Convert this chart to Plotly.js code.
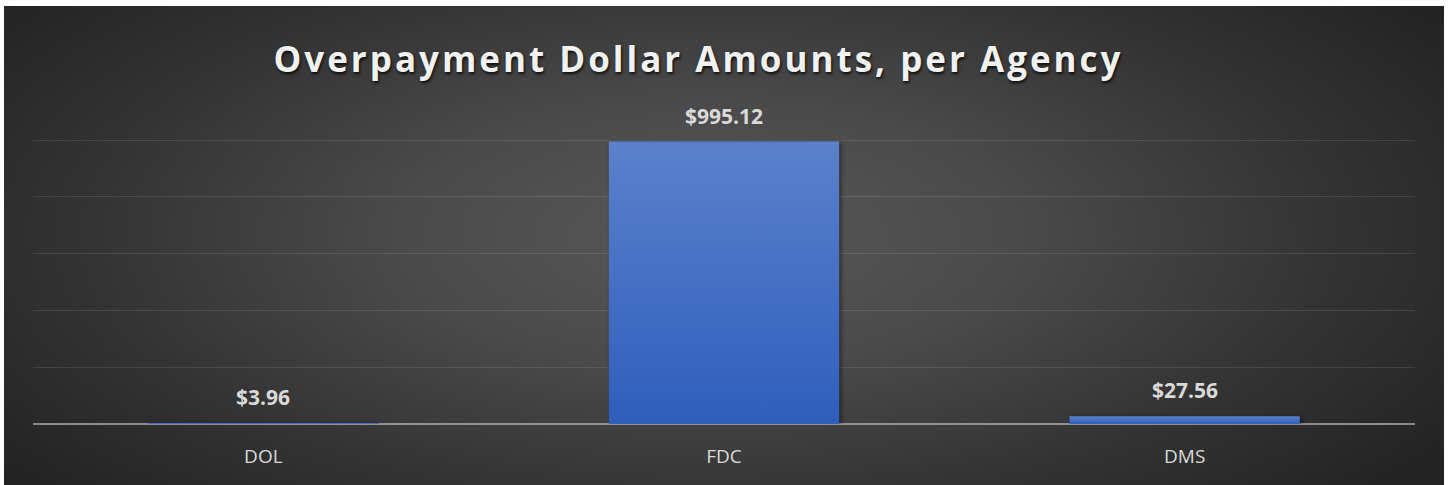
<!DOCTYPE html>
<html>
<head>
<meta charset="utf-8">
<script src="https://cdn.plot.ly/plotly-3.0.1.min.js"></script>
<style>
  html, body { margin: 0; padding: 0; background: #ffffff; width: 1450px; height: 485px; overflow: hidden; }
  #bg { position: absolute; left: 4px; top: 6px; width: 1440px; height: 479px;
        background: radial-gradient(ellipse 62% 80% at 49% 48%, #585858 0%, #4a4a4a 35%, #333333 70%, #232323 100%); }
  #chart { position: absolute; left: 0; top: 0; width: 1450px; height: 485px; }
  #chart .gtitle { letter-spacing: 3px; }
  #chart .trace.bars .point path { fill: url(#barGrad) !important; filter: drop-shadow(2px 1px 2px rgba(0,0,0,0.45)); }
</style>
</head>
<body>
<svg width="0" height="0" style="position:absolute">
  <defs>
    <linearGradient id="barGrad" x1="0" y1="0" x2="0" y2="1">
      <stop offset="0%" stop-color="#5b81cc"/>
      <stop offset="100%" stop-color="#2e5ebc"/>
    </linearGradient>
  </defs>
</svg>
<div id="bg"></div>
<div id="chart"></div>
<script>
const categories = ["DOL", "FDC", "DMS"];
const amounts = [3.96, 995.12, 27.56];
const amountLabels = ["$3.96", "$995.12", "$27.56"];
const chartTitle = "Overpayment Dollar Amounts, per Agency";

const trace = {
  type: "bar",
  x: categories,
  y: amounts,
  marker: { color: "#4674c8", line: { width: 0 } },
  hoverinfo: "skip"
};

const annotations = categories.map((c, i) => ({
  x: c, y: amounts[i], xref: "x", yref: "y",
  text: "<b>" + amountLabels[i] + "</b>",
  showarrow: false, yanchor: "middle", yshift: 26,
  font: { family: "Open Sans, sans-serif", size: 21, color: "#d9d9d9" }
}));

const layout = {
  width: 1450, height: 485,
  paper_bgcolor: "rgba(0,0,0,0)",
  plot_bgcolor: "rgba(0,0,0,0)",
  margin: { l: 33, r: 35, t: 139, b: 61 },
  bargap: 0.5,
  showlegend: false,
  title: {
    text: "<b>" + chartTitle + "</b>",
    xref: "container", x: 0.4817, xanchor: "center", y: 0.876, yanchor: "middle",
    font: { family: "Open Sans, sans-serif", size: 35, color: "#f2f2f2",
            shadow: "1px 2px 3px rgba(0,0,0,0.8)" }
  },
  xaxis: {
    type: "category",
    showgrid: false, zeroline: false, showline: false,
    ticks: "", ticklabelstandoff: 19,
    tickfont: { family: "Open Sans, sans-serif", size: 19, color: "#d9d9d9" },
    fixedrange: true
  },
  yaxis: {
    range: [0, 1004],
    tick0: 0, dtick: 200,
    showticklabels: false,
    showgrid: true, gridcolor: "rgba(255,255,255,0.11)", gridwidth: 1,
    zeroline: true, zerolinecolor: "rgba(205,205,205,0.6)", zerolinewidth: 2,
    showline: false, ticks: "",
    fixedrange: true
  },
  annotations: annotations
};

Plotly.newPlot("chart", [trace], layout, { displayModeBar: false, staticPlot: true });
</script>
</body>
</html>
